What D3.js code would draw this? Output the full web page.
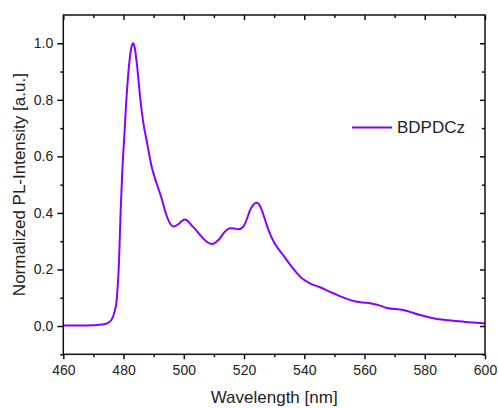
<!DOCTYPE html>
<html>
<head>
<meta charset="utf-8">
<script src="https://cdn.jsdelivr.net/npm/d3@7"></script>
<style>
  html, body { margin: 0; padding: 0; background: #fff; }
  svg text { font-family: "Liberation Sans", Arial, sans-serif; fill: #222; }
</style>
</head>
<body>
<svg id="chart" width="498" height="408"></svg>
<script>
// Photoluminescence spectrum of BDPDCz (normalized)
const seriesName = "BDPDCz";
const wavelength = [
  460, 465, 470, 473, 474.5, 476, 477, 477.7, 478.5, 479.05, 479.6, 480.3,
  481.0, 481.9, 482.6, 483.2, 483.7, 484.4, 485.5, 486.6, 487.7, 489.3,
  490.8, 492.4, 494.3, 495.6, 496.7, 498.2, 499.4, 500.4, 501.5, 502.6,
  504, 505.4, 507.6, 509.3, 510.5, 511.5, 513.7, 515.3, 516.8, 518.1,
  519.8, 521, 522.0, 523.2, 524.2, 525.0, 525.9, 527, 528.1, 529.3,
  530.3, 533.0, 535.8, 539.2, 541.9, 545.2, 549.6, 554.1, 557.4, 560.7,
  564.6, 567.4, 572.9, 578.4, 584.0, 589.5, 595.0, 600
];
const intensity = [
  0.002, 0.002, 0.003, 0.005, 0.009, 0.022, 0.05, 0.09, 0.23, 0.41, 0.55, 0.68,
  0.81, 0.93, 0.985, 1.0, 0.985, 0.93, 0.81, 0.717, 0.655, 0.565,
  0.51, 0.46, 0.39, 0.36, 0.352, 0.36, 0.372, 0.377, 0.37, 0.356,
  0.34, 0.322, 0.298, 0.29, 0.295, 0.304, 0.334, 0.346, 0.345, 0.342,
  0.352, 0.38, 0.41, 0.43, 0.436, 0.43, 0.41, 0.375, 0.34, 0.31,
  0.29, 0.251, 0.21, 0.169, 0.151, 0.137, 0.116, 0.096, 0.086, 0.082,
  0.074, 0.064, 0.057, 0.039, 0.025, 0.019, 0.013, 0.009
];
const xMajorTicks = [460, 480, 500, 520, 540, 560, 580, 600];
const xMinorTicks = [470, 490, 510, 530, 550, 570, 590];
const yMajorTicks = [0.0, 0.2, 0.4, 0.6, 0.8, 1.0];
const yMinorTicks = [-0.1, 0.1, 0.3, 0.5, 0.7, 0.9];
const xTitle = "Wavelength [nm]";
const yTitle = "Normalized PL-Intensity [a.u.]";

const lineColor = "#8800ff";
const margin = { left: 63.3, right: 13, top: 15, bottom: 53.7 };
const W = 498, H = 408;
const x0 = margin.left, x1 = W - margin.right;
const y0 = H - margin.bottom, y1 = margin.top;

const svg = d3.select("#chart");
const x = d3.scaleLinear().domain([460, 600]).range([x0, x1]);
const y = d3.scaleLinear().domain([-0.1, 1.1]).range([y0, y1]);

const data = wavelength.map((w, i) => ({ w, v: intensity[i] }));

// Curve
svg.append("path")
  .datum(data)
  .attr("fill", "none")
  .attr("stroke", lineColor)
  .attr("stroke-width", 2)
  .attr("stroke-linejoin", "round")
  .attr("d", d3.line().x(d => x(d.w)).y(d => y(d.v)).curve(d3.curveMonotoneX));

function styleAxis(g) {
  g.selectAll(".domain").remove();
  g.selectAll(".tick line").attr("stroke", "#111").attr("stroke-width", 1.5);
  g.selectAll(".tick text").style("font-size", "14px").attr("fill", "#222");
}

// Bottom axis (outward ticks, labelled)
svg.append("g").attr("transform", `translate(0,${y0})`)
  .call(d3.axisBottom(x).tickValues(xMajorTicks).tickSize(5).tickPadding(6).tickFormat(d3.format("d")))
  .call(styleAxis);
svg.append("g").attr("transform", `translate(0,${y0})`)
  .call(d3.axisBottom(x).tickValues(xMinorTicks).tickSize(3).tickFormat(""))
  .call(styleAxis);

// Left axis (outward ticks, labelled)
svg.append("g").attr("transform", `translate(${x0},0)`)
  .call(d3.axisLeft(y).tickValues(yMajorTicks).tickSize(6).tickPadding(4).tickFormat(d3.format(".1f")))
  .call(styleAxis);
svg.append("g").attr("transform", `translate(${x0},0)`)
  .call(d3.axisLeft(y).tickValues(yMinorTicks).tickSize(3).tickFormat(""))
  .call(styleAxis);

// Top and right mirrored axes (ticks pointing into the frame)
svg.append("g").attr("transform", `translate(0,${y1})`)
  .call(d3.axisBottom(x).tickValues(xMajorTicks).tickSize(5).tickFormat(""))
  .call(styleAxis);
svg.append("g").attr("transform", `translate(0,${y1})`)
  .call(d3.axisBottom(x).tickValues(xMinorTicks).tickSize(3).tickFormat(""))
  .call(styleAxis);
svg.append("g").attr("transform", `translate(${x1},0)`)
  .call(d3.axisLeft(y).tickValues(yMajorTicks).tickSize(5).tickFormat(""))
  .call(styleAxis);
svg.append("g").attr("transform", `translate(${x1},0)`)
  .call(d3.axisLeft(y).tickValues(yMinorTicks).tickSize(3).tickFormat(""))
  .call(styleAxis);

// Frame
svg.append("rect")
  .attr("x", x0).attr("y", y1)
  .attr("width", x1 - x0).attr("height", y0 - y1)
  .attr("fill", "none").attr("stroke", "#111").attr("stroke-width", 1.5);

// Axis titles
svg.append("text")
  .attr("x", (x0 + x1) / 2).attr("y", 403)
  .attr("text-anchor", "middle")
  .style("font-size", "17px")
  .text(xTitle);
svg.append("text")
  .attr("transform", `translate(25,${(y0 + y1) / 2}) rotate(-90)`)
  .attr("text-anchor", "middle")
  .style("font-size", "17px")
  .text(yTitle);

// Legend
const legY = 127.5;
svg.append("line")
  .attr("x1", 352).attr("x2", 392)
  .attr("y1", legY).attr("y2", legY)
  .attr("stroke", lineColor).attr("stroke-width", 2);
svg.append("text")
  .attr("x", 397).attr("y", legY + 5.5)
  .style("font-size", "17px")
  .text(seriesName);
</script>
</body>
</html>
